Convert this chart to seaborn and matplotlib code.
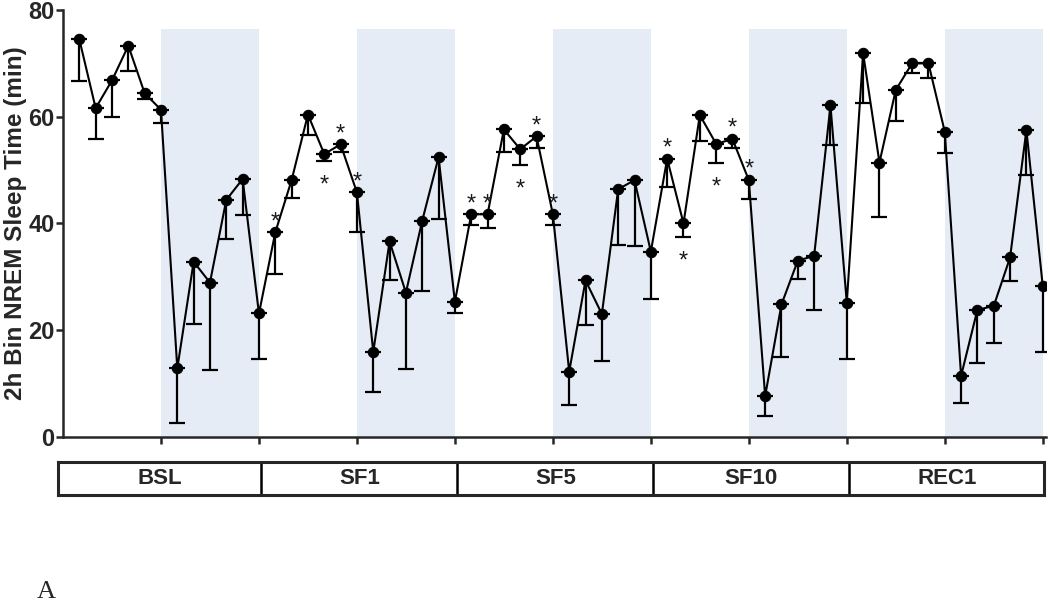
import numpy as np
import pandas as pd
import matplotlib
matplotlib.use("Agg")
import matplotlib.pyplot as plt
import seaborn as sns

# 2h bins, 12 per day
days = ["BSL", "SF1", "SF5", "SF10", "REC1"]
nrem_bsl = [74.5, 61.6, 66.8, 73.3, 64.4, 61.3, 12.8, 32.8, 28.9, 44.4, 48.3, 23.1]
nrem_sf1 = [38.3, 48.1, 60.4, 53.0, 54.8, 45.8, 15.9, 36.6, 27.0, 40.5, 52.4, 25.3]
nrem_sf5 = [41.7, 41.7, 57.6, 53.9, 56.3, 41.7, 12.2, 29.3, 23.0, 46.4, 48.1, 34.7]
nrem_sf10 = [52.1, 40.0, 60.3, 54.9, 55.8, 48.1, 7.6, 24.8, 33.0, 33.9, 62.1, 25.1]
nrem_rec1 = [71.9, 51.4, 65.0, 70.0, 70.0, 57.2, 11.4, 23.8, 24.5, 33.6, 57.5, 28.3]

sem_bsl = [7.9, 5.8, 6.9, 4.7, 1.1, 2.5, 10.3, 11.7, 16.4, 7.3, 6.7, 8.6]
sem_sf1 = [7.8, 3.4, 3.8, 1.4, 1.4, 7.5, 7.5, 7.2, 14.3, 13.1, 11.5, 2.2]
sem_sf5 = [2.1, 2.5, 4.2, 3.0, 2.2, 2.1, 6.3, 8.4, 8.9, 10.5, 12.3, 8.8]
sem_sf10 = [5.2, 2.6, 4.9, 3.5, 1.6, 3.5, 3.8, 9.8, 3.4, 10.1, 7.4, 10.6]
sem_rec1 = [9.3, 10.3, 5.9, 1.9, 2.8, 4.1, 5.0, 9.9, 6.9, 4.4, 8.4, 12.5]

# significance stars: bin index -> above the point / below the error bar
stars_above = [12, 16, 17, 24, 25, 28, 29, 36, 40, 41]
stars_below = [15, 27, 37, 39]

mean = np.array(nrem_bsl + nrem_sf1 + nrem_sf5 + nrem_sf10 + nrem_rec1)
sem = np.array(sem_bsl + sem_sf1 + sem_sf5 + sem_sf10 + sem_rec1)
df = pd.DataFrame({"bin": np.arange(len(mean)), "nrem": mean, "sem": sem})

sns.set_style("ticks")
plt.rcParams["font.family"] = ["Liberation Sans", "DejaVu Sans"]

fig = plt.figure(figsize=(10.5, 6.03), dpi=100)
W, H = 1050, 603
ax = fig.add_axes([63 / W, 1 - 436.7 / H, (1046 - 63) / W, (436.7 - 10) / H])

# dark periods (second half of each day)
for d in range(len(days)):
    ax.axvspan(d * 12 + 5, d * 12 + 11, ymax=76.5 / 80, color="#e5ecf6", lw=0, zorder=0)

ax.errorbar(df["bin"], df["nrem"], yerr=[df["sem"], np.zeros(len(df))], fmt="none",
            ecolor="black", elinewidth=1.6, capsize=6, capthick=1.6, zorder=2)
sns.lineplot(data=df, x="bin", y="nrem", ax=ax, color="black", lw=1.5,
             marker="o", markersize=7.5, markeredgecolor="black", zorder=3)

for i in stars_above:
    ax.text(i, mean[i] + 1.9, "*", ha="center", va="center", fontsize=17, color="#1a1a1a")
for i in stars_below:
    ax.text(i, mean[i] - sem[i] - 4.6, "*", ha="center", va="center", fontsize=17, color="#1a1a1a")

ax.set_xlim(-1, 59.2)
ax.set_ylim(0, 80)
ax.set_yticks([0, 20, 40, 60, 80])
ax.set_xticks(np.arange(5, 60, 6))
ax.set_xticklabels([])
ax.set_xlabel("")
ax.set_ylabel("2h Bin NREM Sleep Time (min)", fontsize=17.5, fontweight="bold", labelpad=1)
for lab in ax.get_yticklabels():
    lab.set_fontweight("bold")
    lab.set_fontsize(17)
ax.tick_params(axis="both", width=1.8, length=5, pad=1)
sns.despine(ax=ax)
for s in ["left", "bottom"]:
    ax.spines[s].set_linewidth(1.8)

# day label strip under the axis
x0, x1 = -1.3, 59.1
px = lambda i: 79.3 + 16.33 * i
bx = fig.add_axes([px(x0) / W, 1 - 495 / H, (px(x1) - px(x0)) / W, 33 / H])
bx.set_xlim(x0, x1)
bx.set_ylim(0, 1)
bx.set_xticks([])
bx.set_yticks([])
for s in bx.spines.values():
    s.set_visible(True)
    s.set_linewidth(2.2)
edges = [x0] + [12 * k - 0.85 for k in range(1, len(days))] + [x1]
for k, name in enumerate(days):
    if k > 0:
        bx.axvline(edges[k], color="black", lw=1.8)
    bx.text((edges[k] + edges[k + 1]) / 2, 0.5, name, ha="center", va="center",
            fontsize=16, fontweight="bold")

fig.text(37 / W, 1 - 592 / H, "A", family=["Liberation Serif", "DejaVu Serif"],
         fontsize=19, va="center", ha="left")

fig.savefig("out.png", dpi=100)
